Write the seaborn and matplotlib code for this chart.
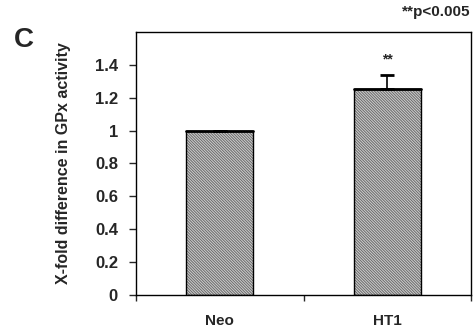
import matplotlib
matplotlib.use('Agg')
import matplotlib.pyplot as plt
import matplotlib.patches as mpatches
import seaborn as sns
import pandas as pd

# Values
groups = ['Neo', 'HT1']
fold_change = [1.0, 1.25]
sem_err = [0.0, 0.09]
signif = ['', '**']

df = pd.DataFrame({'group': groups, 'fold': fold_change})

sns.set_style('white')
plt.rcParams['font.family'] = ['Liberation Sans', 'DejaVu Sans']
plt.rcParams['hatch.linewidth'] = 0.7

fig = plt.figure(figsize=(4.73, 3.36), dpi=100)
ax = fig.add_axes([0.2875, 0.122, 0.7085, 0.783])

sns.barplot(data=df, x='group', y='fold', color='#cfcfcf', width=0.4,
            edgecolor='#6a6a6a', linewidth=0, hatch='\\' * 12, ax=ax)

# black outline over hatched bars
for p in ax.patches:
    ax.add_patch(mpatches.Rectangle(p.get_xy(), p.get_width(), p.get_height(),
                                    fill=False, edgecolor='black', lw=1.0, zorder=3))
    ax.plot([p.get_x(), p.get_x() + p.get_width()], [p.get_height()] * 2,
            color='black', lw=2, zorder=4)

# error bar (upper only)
ax.errorbar(range(len(groups)), fold_change,
            yerr=[[0] * len(sem_err), sem_err], fmt='none', ecolor='black',
            elinewidth=1.2, capsize=5, capthick=2, zorder=5)
for i, s in enumerate(signif):
    if s:
        ax.text(i, fold_change[i] + sem_err[i] + 0.05, s, ha='center', va='bottom',
                fontsize=10, fontweight='bold')

ax.set_xlim(-0.5, 1.5)
ax.set_ylim(0, 1.6)
ax.set_yticks([0, 0.2, 0.4, 0.6, 0.8, 1.0, 1.2, 1.4])
ax.set_yticklabels(['0', '0.2', '0.4', '0.6', '0.8', '1', '1.2', '1.4'],
                   fontsize=12, fontweight='bold')
ax.set_xticks([0, 1])
ax.set_xticklabels(groups, fontsize=11, fontweight='bold')
ax.set_xticks([-0.5, 0.5, 1.5], minor=True)
ax.tick_params(axis='x', which='major', length=0, pad=14)
ax.tick_params(axis='x', which='minor', length=4, width=1, direction='out', bottom=True)
ax.tick_params(axis='y', length=5, width=1, direction='out', left=True, pad=8)
ax.set_xlabel('')
ax.set_ylabel('X-fold difference in GPx activity', fontsize=11.5, fontweight='bold', labelpad=17)

for sp in ax.spines.values():
    sp.set_color('black')
    sp.set_linewidth(1.0)

fig.text(0.03, 0.86, 'C', fontsize=20, fontweight='bold')
fig.text(0.995, 0.965, '**p<0.005', ha='right', va='center', fontsize=11, fontweight='bold')

fig.savefig('out.png', dpi=100)
